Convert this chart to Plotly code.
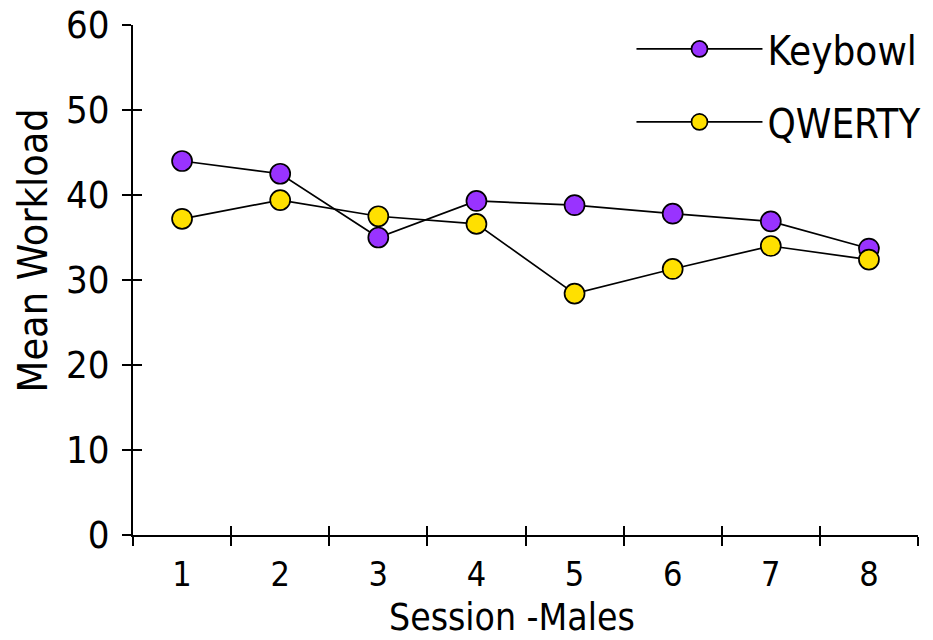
import plotly.graph_objects as go

sessions = ["1", "2", "3", "4", "5", "6", "7", "8"]
keybowl = [44.0, 42.5, 35.0, 39.3, 38.8, 37.8, 36.9, 33.7]
qwerty = [37.2, 39.4, 37.5, 36.6, 28.4, 31.3, 34.0, 32.4]
yticks = [0, 10, 20, 30, 40, 50, 60]

FONT = "DejaVu Sans Condensed, Liberation Sans Narrow, sans-serif"
PURPLE = "#9933FF"
YELLOW = "#FFE000"

fig = go.Figure()
fig.add_trace(go.Scatter(
    x=sessions, y=keybowl, name="Keybowl", mode="lines+markers",
    line=dict(color="black", width=1.7),
    marker=dict(color=PURPLE, size=20, line=dict(color="black", width=1.7)),
    legend="legend",
))
fig.add_trace(go.Scatter(
    x=sessions, y=qwerty, name="QWERTY", mode="lines+markers",
    line=dict(color="black", width=1.7),
    marker=dict(color=YELLOW, size=20, line=dict(color="black", width=1.7)),
    legend="legend2",
))
# invisible trace on overlay axes so that the inward half of each tick is drawn
fig.add_trace(go.Scatter(x=sessions, y=keybowl, xaxis="x2", yaxis="y2", mode="markers",
                         marker=dict(opacity=0), showlegend=False, hoverinfo="skip"))

axis_common = dict(showgrid=False, zeroline=False, linecolor="black", linewidth=2,
                   tickcolor="black", tickwidth=2, ticklen=9)

fig.update_layout(
    width=933, height=640,
    margin=dict(l=133, r=15, t=25, b=105, autoexpand=False),
    paper_bgcolor="white", plot_bgcolor="white",
    font=dict(family=FONT, size=38, color="black"),
    xaxis=dict(**axis_common, type="category", categoryarray=sessions, range=[-0.5, 7.5],
               tickson="boundaries", ticks="outside", showline=True, ticklabelstandoff=8,
               tickfont=dict(size=34)),
    yaxis=dict(**axis_common, range=[0, 60], tickvals=yticks,
               ticks="outside", showline=True, ticklabelstandoff=5,
               tickfont=dict(size=38)),
    xaxis2=dict(**axis_common, overlaying="x", type="category", categoryarray=sessions,
                range=[-0.5, 7.5], tickson="boundaries", ticks="inside", showline=False,
                showticklabels=False, side="bottom", anchor="y2"),
    yaxis2=dict(**axis_common, overlaying="y", range=[0, 60], tickvals=yticks,
                ticks="inside", showline=False, showticklabels=False, side="left", anchor="x2"),
    legend=dict(x=0.635, y=0.953, xanchor="left", yanchor="middle", bgcolor="rgba(0,0,0,0)",
                itemwidth=126, font=dict(size=40)),
    legend2=dict(x=0.635, y=0.810, xanchor="left", yanchor="middle", bgcolor="rgba(0,0,0,0)",
                 itemwidth=126, font=dict(size=40)),
    showlegend=True,
    annotations=[
        dict(text="Mean Workload", xref="paper", yref="paper", x=-0.128, y=0.557,
             xanchor="center", yanchor="middle", textangle=-90, showarrow=False,
             font=dict(size=41)),
        dict(text="Session -Males", xref="paper", yref="paper", x=0.483, y=-0.161,
             xanchor="center", yanchor="middle", showarrow=False, font=dict(size=37)),
    ],
)

fig.write_html("out.html")
